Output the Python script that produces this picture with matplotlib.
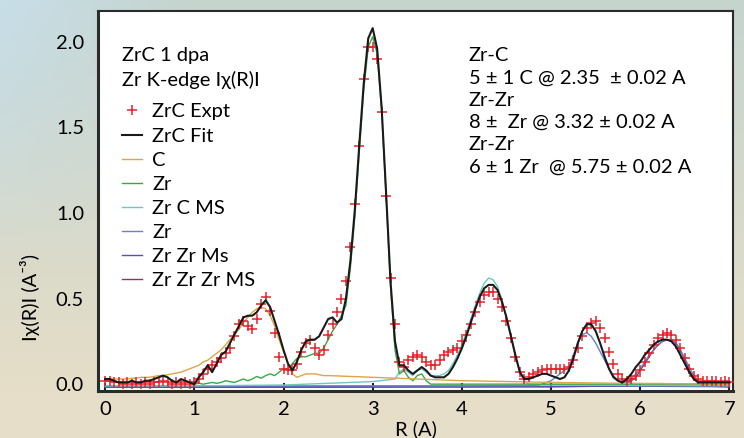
import numpy as np
import matplotlib
matplotlib.use("Agg")
import matplotlib.pyplot as plt

plt.rcParams['font.family'] = ['Lato', 'DejaVu Sans']

# common R grid (A) for expt / fit / main components
r = np.round(np.arange(0, 7.0001, 0.05), 2)

expt = [0.02, 0.02, 0.01, 0.01, 0.00, 0.01, 0.00, 0.01, 0.00, 0.01,
        0.00, 0.01, 0.01, 0.02, 0.01, 0.00, 0.01, 0.00, 0.01, 0.00,
        0.01, 0.03, 0.06, 0.09, 0.11, 0.13, 0.15, 0.18, 0.21, 0.28,
        0.35, 0.37, 0.34, 0.32, 0.38, 0.47, 0.51, 0.43, 0.30, 0.16,
        0.09, 0.08, 0.08, 0.12, 0.19, 0.24, 0.26, 0.21, 0.17, 0.20,
        0.29, 0.35, 0.42, 0.50, 0.60, 0.80, 1.05, 1.39, 1.78, 1.97,
        1.97, 1.90, 1.59, 1.10, 0.62, 0.35, 0.13, 0.10, 0.14, 0.16,
        0.17, 0.16, 0.13, 0.11, 0.11, 0.14, 0.17, 0.19, 0.20, 0.21,
        0.25, 0.29, 0.35, 0.42, 0.48, 0.52, 0.54, 0.54, 0.50, 0.45,
        0.37, 0.27, 0.16, 0.07, 0.03, 0.04, 0.06, 0.07, 0.08, 0.09,
        0.09, 0.09, 0.09, 0.09, 0.10, 0.14, 0.21, 0.28, 0.33, 0.36,
        0.37, 0.33, 0.27, 0.19, 0.12, 0.06, 0.03, 0.02, 0.03, 0.05,
        0.08, 0.13, 0.18, 0.23, 0.27, 0.29, 0.30, 0.29, 0.26, 0.21,
        0.15, 0.09, 0.05, 0.03, 0.02, 0.02, 0.02, 0.02, 0.01, 0.02,
        0.01]

fit = [0.03, 0.03, 0.02, 0.01, 0.01, 0.01, 0.02, 0.01, 0.01, 0.02,
       0.02, 0.03, 0.04, 0.05, 0.04, 0.02, 0.01, 0.03, 0.02, 0.01,
       0.00, 0.04, 0.07, 0.11, 0.07, 0.12, 0.17, 0.19, 0.24, 0.29,
       0.34, 0.39, 0.40, 0.40, 0.42, 0.46, 0.49, 0.45, 0.37, 0.29,
       0.20, 0.12, 0.08, 0.13, 0.20, 0.25, 0.26, 0.26, 0.28, 0.33,
       0.38, 0.39, 0.36, 0.38, 0.50, 0.72, 1.02, 1.40, 1.76, 2.02,
       2.08, 1.96, 1.62, 1.12, 0.60, 0.25, 0.11, 0.11, 0.08, 0.06,
       0.08, 0.10, 0.08, 0.05, 0.04, 0.04, 0.04, 0.06, 0.10, 0.15,
       0.21, 0.28, 0.36, 0.44, 0.51, 0.56, 0.58, 0.58, 0.55, 0.48,
       0.39, 0.28, 0.17, 0.07, 0.03, 0.03, 0.04, 0.05, 0.06, 0.06,
       0.05, 0.04, 0.03, 0.04, 0.08, 0.15, 0.24, 0.31, 0.35, 0.35,
       0.31, 0.24, 0.16, 0.09, 0.04, 0.02, 0.01, 0.03, 0.06, 0.10,
       0.13, 0.17, 0.20, 0.23, 0.25, 0.26, 0.26, 0.25, 0.22, 0.17,
       0.12, 0.07, 0.03, 0.01, 0.01, 0.01, 0.01, 0.01, 0.01, 0.01,
       0.01]

c_path = [0.030, 0.030, 0.030, 0.030, 0.030, 0.030, 0.035, 0.035, 0.040, 0.040,
          0.040, 0.045, 0.050, 0.050, 0.055, 0.060, 0.065, 0.070, 0.080, 0.090,
          0.100, 0.110, 0.130, 0.140, 0.160, 0.180, 0.200, 0.230, 0.260, 0.290,
          0.320, 0.360, 0.390, 0.420, 0.440, 0.450, 0.440, 0.400, 0.340, 0.260,
          0.190, 0.120, 0.060, 0.040, 0.050, 0.060, 0.060, 0.060, 0.055, 0.050,
          0.050, 0.049, 0.048, 0.047, 0.046, 0.045, 0.044, 0.043, 0.042, 0.041,
          0.040, 0.039, 0.038, 0.037, 0.036, 0.035, 0.034, 0.033, 0.032, 0.031,
          0.030, 0.029, 0.028, 0.027, 0.026, 0.025, 0.024, 0.023, 0.022, 0.021,
          0.020, 0.020, 0.019, 0.019, 0.018, 0.018, 0.017, 0.017, 0.016, 0.016,
          0.015, 0.015, 0.014, 0.014, 0.013, 0.013, 0.012, 0.012, 0.011, 0.011,
          0.010, 0.010, 0.010, 0.009, 0.009, 0.009, 0.008, 0.008, 0.008, 0.007,
          0.007, 0.007, 0.006, 0.006, 0.006, 0.006, 0.005, 0.005, 0.005, 0.005,
          0.005, 0.004, 0.004, 0.004, 0.004, 0.004, 0.003, 0.003, 0.003, 0.003,
          0.003, 0.002, 0.002, 0.002, 0.002, 0.001, 0.001, 0.001, 0.001, 0.000,
          0.000]

zr1 = [np.nan] * 20 + [
    0.000, 0.005, 0.000, 0.005, 0.010, 0.005, 0.010, 0.020, 0.015, 0.010,
    0.020, 0.030, 0.020, 0.030, 0.045, 0.035, 0.050, 0.060, 0.050, 0.070,
    0.090, 0.090, 0.120, 0.150, 0.160, 0.160, 0.170, 0.180, 0.180, 0.210,
    0.260, 0.310, 0.350, 0.400, 0.460, 0.680, 0.980, 1.360, 1.720, 1.970,
    2.030, 1.930, 1.600, 1.100, 0.570, 0.200, 0.060, 0.080, 0.040, 0.020,
    0.050, 0.060, 0.020, 0.000, 0.000, 0.000, 0.000, 0.000, 0.000, 0.000,
    0.000, 0.000, 0.000, 0.000, 0.000, 0.000, 0.000, 0.000, 0.000, 0.000,
    0.000, 0.000, 0.000, 0.000, 0.000, 0.000, 0.000, 0.000, 0.000, 0.000,
    0.000, 0.000, 0.000, 0.000, 0.000, 0.000, 0.000, 0.000, 0.000, 0.000,
    0.000, 0.000, 0.000, 0.000, 0.000, 0.000, 0.000, 0.000, 0.000, 0.000,
    0.000, 0.000, 0.000, 0.000, 0.000, 0.000, 0.000, 0.000, 0.000, 0.000,
    0.000, 0.000, 0.000, 0.000, 0.000, 0.000, 0.000, 0.000, 0.000, 0.000,
    0.000]

zrc_ms_r = [0.0, 1.0, 2.0, 2.5, 3.0, 3.25, 3.30, 3.35, 3.40, 3.45, 3.50, 3.55,
            3.60, 3.65, 3.70, 3.75, 3.80, 3.85, 3.90, 3.95, 4.00, 4.05, 4.10,
            4.15, 4.20, 4.25, 4.30, 4.35, 4.40, 4.45, 4.50, 4.55, 4.60, 4.65,
            4.70, 4.75, 5.0, 6.0, 7.0]
zrc_ms = [-0.010, -0.010, -0.005, 0.005, 0.015, 0.030, 0.070, 0.090, 0.070,
          0.050, 0.080, 0.090, 0.070, 0.050, 0.050, 0.050, 0.060, 0.080,
          0.120, 0.170, 0.230, 0.300, 0.380, 0.460, 0.530, 0.590, 0.620,
          0.610, 0.570, 0.490, 0.390, 0.280, 0.160, 0.070, 0.020, 0.000,
          -0.005, -0.008, -0.010]

zr2_r = [0.0, 2.0, 4.0, 4.85, 4.90, 4.95, 5.00, 5.05, 5.10, 5.15, 5.20, 5.25,
         5.30, 5.35, 5.40, 5.45, 5.50, 5.55, 5.60, 5.65, 5.70, 5.75, 5.80,
         5.85, 5.90, 5.95, 6.00, 6.05, 6.10, 6.15, 6.20, 6.25, 6.30, 6.35,
         6.40, 6.45, 6.50, 6.55, 6.60, 6.65, 6.70, 7.0]
zr2 = [-0.010, -0.010, -0.010, -0.008, 0.000, 0.010, 0.020, 0.040, 0.060,
       0.080, 0.100, 0.170, 0.240, 0.290, 0.300, 0.280, 0.240, 0.190, 0.140,
       0.090, 0.050, 0.020, 0.010, 0.010, 0.030, 0.060, 0.090, 0.130, 0.170,
       0.200, 0.230, 0.250, 0.260, 0.260, 0.240, 0.200, 0.150, 0.100, 0.050,
       0.020, 0.000, -0.010]

zrzr_ms_r = [0.0, 1.0, 2.0, 3.0, 4.0, 5.0, 6.0, 7.0]
zrzr_ms = [-0.015, -0.015, -0.014, -0.013, -0.012, -0.013, -0.012, -0.015]

zrzrzr_ms_r = [0.0, 2.0, 4.0, 5.0, 5.80, 5.85, 5.90, 5.95, 6.00, 6.05, 6.10,
               6.15, 6.20, 6.25, 6.30, 6.35, 6.40, 6.45, 6.50, 6.55, 6.60,
               6.65, 6.70, 7.0]
zrzrzr_ms = [-0.018, -0.018, -0.017, -0.016, -0.010, 0.000, 0.020, 0.040,
             0.080, 0.120, 0.160, 0.200, 0.230, 0.250, 0.260, 0.260, 0.240,
             0.200, 0.140, 0.080, 0.040, 0.010, -0.010, -0.016]

legend_labels = ["ZrC Expt", "ZrC Fit", "C", "Zr", "Zr C MS", "Zr",
                 "Zr Zr Ms", "Zr Zr Zr MS"]

# background wash
h, w = 438, 744
yy = np.linspace(0, 1, h)[:, None]
xx = np.linspace(0, 1, w)[None, :]
top = np.array([197, 212, 206]) / 255
bottom = np.array([230, 222, 200]) / 255
blue = np.array([200, 222, 232]) / 255
t = np.clip(yy * 1.1, 0, 1)[..., None]
img = top * (1 - t) + bottom * t
wleft = (np.clip(1 - xx / 0.25, 0, 1) * np.clip(1 - yy / 0.6, 0, 1))[..., None]
img = img * (1 - wleft) + blue * wleft

fig = plt.figure(figsize=(7.44, 4.38), dpi=100)
bg = fig.add_axes([0, 0, 1, 1], zorder=-10)
bg.imshow(img, aspect='auto', extent=[0, 1, 0, 1])
bg.axis('off')

ax = fig.add_axes([98 / 744, 47 / 438, 635 / 744, 380 / 438])
ax.set_facecolor('white')

h_mss = ax.plot(zrzrzr_ms_r, zrzrzr_ms, color='#7b3b6e', lw=1.0, zorder=2)[0]
h_ms = ax.plot(zrzr_ms_r, zrzr_ms, color='#5b4fb5', lw=1.0, zorder=2)[0]
h_zr2 = ax.plot(zr2_r, zr2, color='#6a80c8', lw=1.0, zorder=2)[0]
h_zrc = ax.plot(zrc_ms_r, zrc_ms, color='#6cc9b8', lw=1.0, zorder=2)[0]
h_zr1 = ax.plot(r, zr1, color='#3aa648', lw=1.0, zorder=2)[0]
h_c = ax.plot(r, c_path, color='#d9a64a', lw=1.0, zorder=2)[0]
h_exp = ax.plot(r, expt, linestyle='none', marker='+', ms=7, mew=1.1,
                color='#e8202a', zorder=3)[0]
h_fit = ax.plot(r, fit, color='#1a1a1a', lw=1.5, zorder=4)[0]

ax.set_xlim(-0.08, 7.04)
ax.set_ylim(-0.04, 2.18)
ax.set_xticks(range(8))
ax.set_yticks([0.0, 0.5, 1.0, 1.5, 2.0])
ax.set_yticklabels(["0.0", "0.5", "1.0", "1.5", "2.0"])
ax.tick_params(axis='x', direction='in', length=6, width=1.5, color='#222222',
               pad=7, labelsize=14.5)
ax.tick_params(axis='y', length=0, pad=10, labelsize=14.5)
for name, sp in ax.spines.items():
    sp.set_color('#2b2b2b')
    sp.set_linewidth(2.2 if name in ('left', 'bottom') else 1.5)

ax.set_xlabel("R (A)", fontsize=14.5, labelpad=2)
ax.set_ylabel("Iχ(R)I (A⁻³)", fontsize=14.5)
ax.yaxis.set_label_coords(-0.092, 0.245)

handles = [h_exp, h_fit, h_c, h_zr1, h_zrc, h_zr2, h_ms, h_mss]
ax.legend(handles, legend_labels, loc='upper left',
          bbox_to_anchor=(0.0378, 0.757), frameon=False, fontsize=14.5,
          borderpad=0, borderaxespad=0, handlelength=1.0, handletextpad=0.5,
          labelspacing=0.35)

ax.text(0.0378, (391 - 56) / 380, "ZrC 1 dpa", transform=ax.transAxes,
        fontsize=14.5, va='center', ha='left')
ax.text(0.0378, (391 - 80) / 380, "Zr K-edge Iχ(R)I", transform=ax.transAxes,
        fontsize=14.5, va='center', ha='left')

ax.text(0.584, 0.905,
        "Zr-C\n5 ± 1 C @ 2.35  ± 0.02 A\nZr-Zr\n8 ±  Zr @ 3.32 ± 0.02 A\n"
        "Zr-Zr\n6 ± 1 Zr  @ 5.75 ± 0.02 A",
        transform=ax.transAxes, fontsize=14.5, va='top', ha='left',
        linespacing=1.38)

fig.savefig("out.png", dpi=100)
